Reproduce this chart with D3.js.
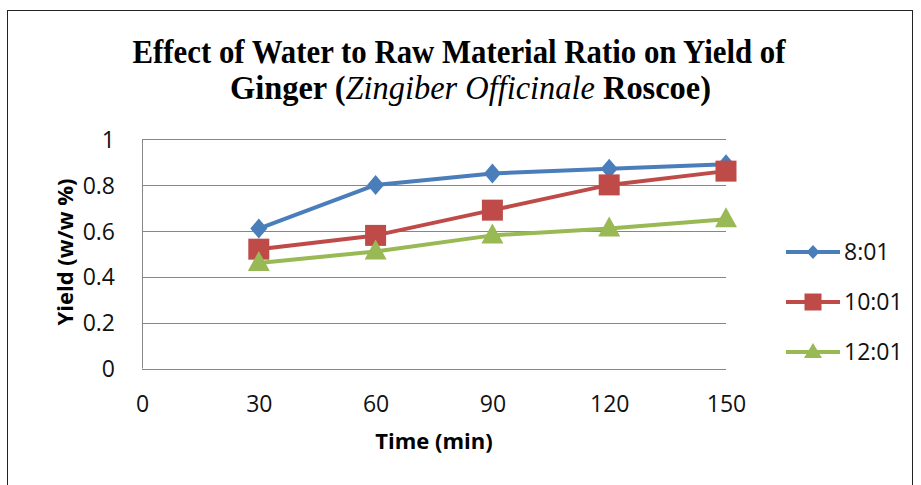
<!DOCTYPE html>
<html>
<head>
<meta charset="utf-8">
<script src="https://cdn.jsdelivr.net/npm/d3@7"></script>
<style>
  body { margin: 0; background: #fff; }
  text { font-family: "Open Sans", "Liberation Sans", sans-serif; }
</style>
</head>
<body>
<svg id="chart" width="921" height="485"></svg>
<script>
var width = 921, height = 485

// data
var times = [30, 60, 90, 120, 150]
var ratio8 = [0.61, 0.80, 0.85, 0.87, 0.89]
var ratio10 = [0.52, 0.58, 0.69, 0.80, 0.86]
var ratio12 = [0.46, 0.51, 0.58, 0.61, 0.65]
var seriesNames = ["8:01", "10:01", "12:01"]
var xTicks = [0, 30, 60, 90, 120, 150]
var yTicks = [0, 0.2, 0.4, 0.6, 0.8, 1]

var colors = ["#4a7ebb", "#be4b48", "#98b954"]

// excel-like marker shapes, w/h are full width and height
function diamond(w, h) {
  return { draw: function(ctx) {
    ctx.moveTo(0, -h / 2); ctx.lineTo(w / 2, 0); ctx.lineTo(0, h / 2); ctx.lineTo(-w / 2, 0); ctx.closePath()
  } }
}
function square(w, h) {
  return { draw: function(ctx) { ctx.rect(-w / 2, -h / 2, w, h) } }
}
function triangle(w, h) {
  return { draw: function(ctx) {
    ctx.moveTo(0, -h * 0.6); ctx.lineTo(w / 2, h * 0.4); ctx.lineTo(-w / 2, h * 0.4); ctx.closePath()
  } }
}
var shapes = [diamond(17, 20), square(21, 21), triangle(22, 20)]
var legendShapes = [diamond(13, 14), square(17, 17), triangle(18, 15)]

var series = [ratio8, ratio10, ratio12].map(function(vals, i) {
  return { name: seriesNames[i], values: vals.map(function(v, j) { return { t: times[j], v: v } }) }
})

var svg = d3.select("#chart")

// outer frame
svg.append("rect")
  .attr("x", 7.5).attr("y", 10.5)
  .attr("width", 905).attr("height", 490)
  .attr("fill", "none").attr("stroke", "#222").attr("stroke-width", 1)

var x = d3.scaleLinear().domain([0, 150]).range([142, 726])
var y = d3.scaleLinear().domain([0, 1]).range([368.5, 139])

// title
var title = svg.append("g")
  .attr("font-weight", "bold").attr("font-size", 33).attr("fill", "#000")
title.append("text")
  .attr("x", 459).attr("y", 63).attr("text-anchor", "middle")
  .style("font-family", "'Liberation Serif', 'Times New Roman', serif")
  .attr("textLength", 653).attr("lengthAdjust", "spacingAndGlyphs")
  .text("Effect of Water to Raw Material Ratio on Yield of")
var t2 = title.append("text")
  .attr("x", 470.5).attr("y", 99).attr("text-anchor", "middle")
  .style("font-family", "'Liberation Serif', 'Times New Roman', serif")
  .attr("textLength", 481).attr("lengthAdjust", "spacingAndGlyphs")
t2.append("tspan").text("Ginger (")
t2.append("tspan").attr("font-style", "italic").attr("font-weight", "normal").text("Zingiber Officinale")
t2.append("tspan").text(" Roscoe)")

// gridlines
svg.append("g").selectAll("line")
  .data(yTicks)
  .join("line")
  .attr("x1", x(0)).attr("x2", x(150))
  .attr("y1", function(d) { return Math.round(y(d)) + 0.5 })
  .attr("y2", function(d) { return Math.round(y(d)) + 0.5 })
  .attr("stroke", "#878787").attr("stroke-width", 1)

// left axis line
svg.append("line")
  .attr("x1", x(0) + 0.5).attr("x2", x(0) + 0.5)
  .attr("y1", y(1)).attr("y2", y(0))
  .attr("stroke", "#878787")

// axes via d3
var yAxis = svg.append("g")
  .attr("transform", "translate(" + (x(0) - 23) + ",0)")
  .call(d3.axisLeft(y).tickValues(yTicks).tickSize(0).tickPadding(4)
    .tickFormat(function(d) { return d === 0 || d === 1 ? d : d3.format(".1f")(d) }))
yAxis.select(".domain").remove()
yAxis.selectAll("text").attr("font-size", 23).attr("fill", "#111").attr("dy", "0.36em")
  .style("font-family", "'Open Sans', sans-serif")

var xAxis = svg.append("g")
  .attr("transform", "translate(0,412)")
  .call(d3.axisBottom(x).tickValues(xTicks).tickSize(0).tickPadding(0))
xAxis.select(".domain").remove()
xAxis.selectAll("text").attr("font-size", 23).attr("fill", "#111").attr("y", 0).attr("dy", 0)
  .style("font-family", "'Open Sans', sans-serif")

// axis titles
svg.append("text")
  .attr("x", 434).attr("y", 449).attr("text-anchor", "middle")
  .attr("font-size", 22).attr("font-weight", "bold")
  .text("Time (min)")
svg.append("text")
  .attr("transform", "translate(73,252) rotate(-90)")
  .attr("text-anchor", "middle")
  .attr("font-size", 22).attr("font-weight", "bold")
  .text("Yield (w/w %)")

// lines
var line = d3.line().x(function(d) { return x(d.t) }).y(function(d) { return y(d.v) })

series.forEach(function(s, i) {
  svg.append("path")
    .datum(s.values)
    .attr("d", line)
    .attr("fill", "none")
    .attr("stroke", colors[i])
    .attr("stroke-width", 4)
    .attr("stroke-linejoin", "round")
})

series.forEach(function(s, i) {
  svg.append("g").selectAll("path")
    .data(s.values)
    .join("path")
    .attr("transform", function(d) { return "translate(" + x(d.t) + "," + y(d.v) + ")" })
    .attr("d", d3.symbol().type(shapes[i]))
    .attr("fill", colors[i])
})

// legend
var legend = svg.append("g")
var legendY = [252, 302, 352]
series.forEach(function(s, i) {
  var g = legend.append("g").attr("transform", "translate(0," + legendY[i] + ")")
  g.append("line")
    .attr("x1", 786).attr("x2", 840).attr("y1", 0).attr("y2", 0)
    .attr("stroke", colors[i]).attr("stroke-width", 4)
  g.append("path")
    .attr("transform", "translate(813,0)")
    .attr("d", d3.symbol().type(legendShapes[i]))
    .attr("fill", colors[i])
  g.append("text")
    .attr("x", 844).attr("y", 0).attr("dy", "0.36em")
    .attr("font-size", 23).attr("fill", "#111")
    .text(s.name)
})
</script>
</body>
</html>
